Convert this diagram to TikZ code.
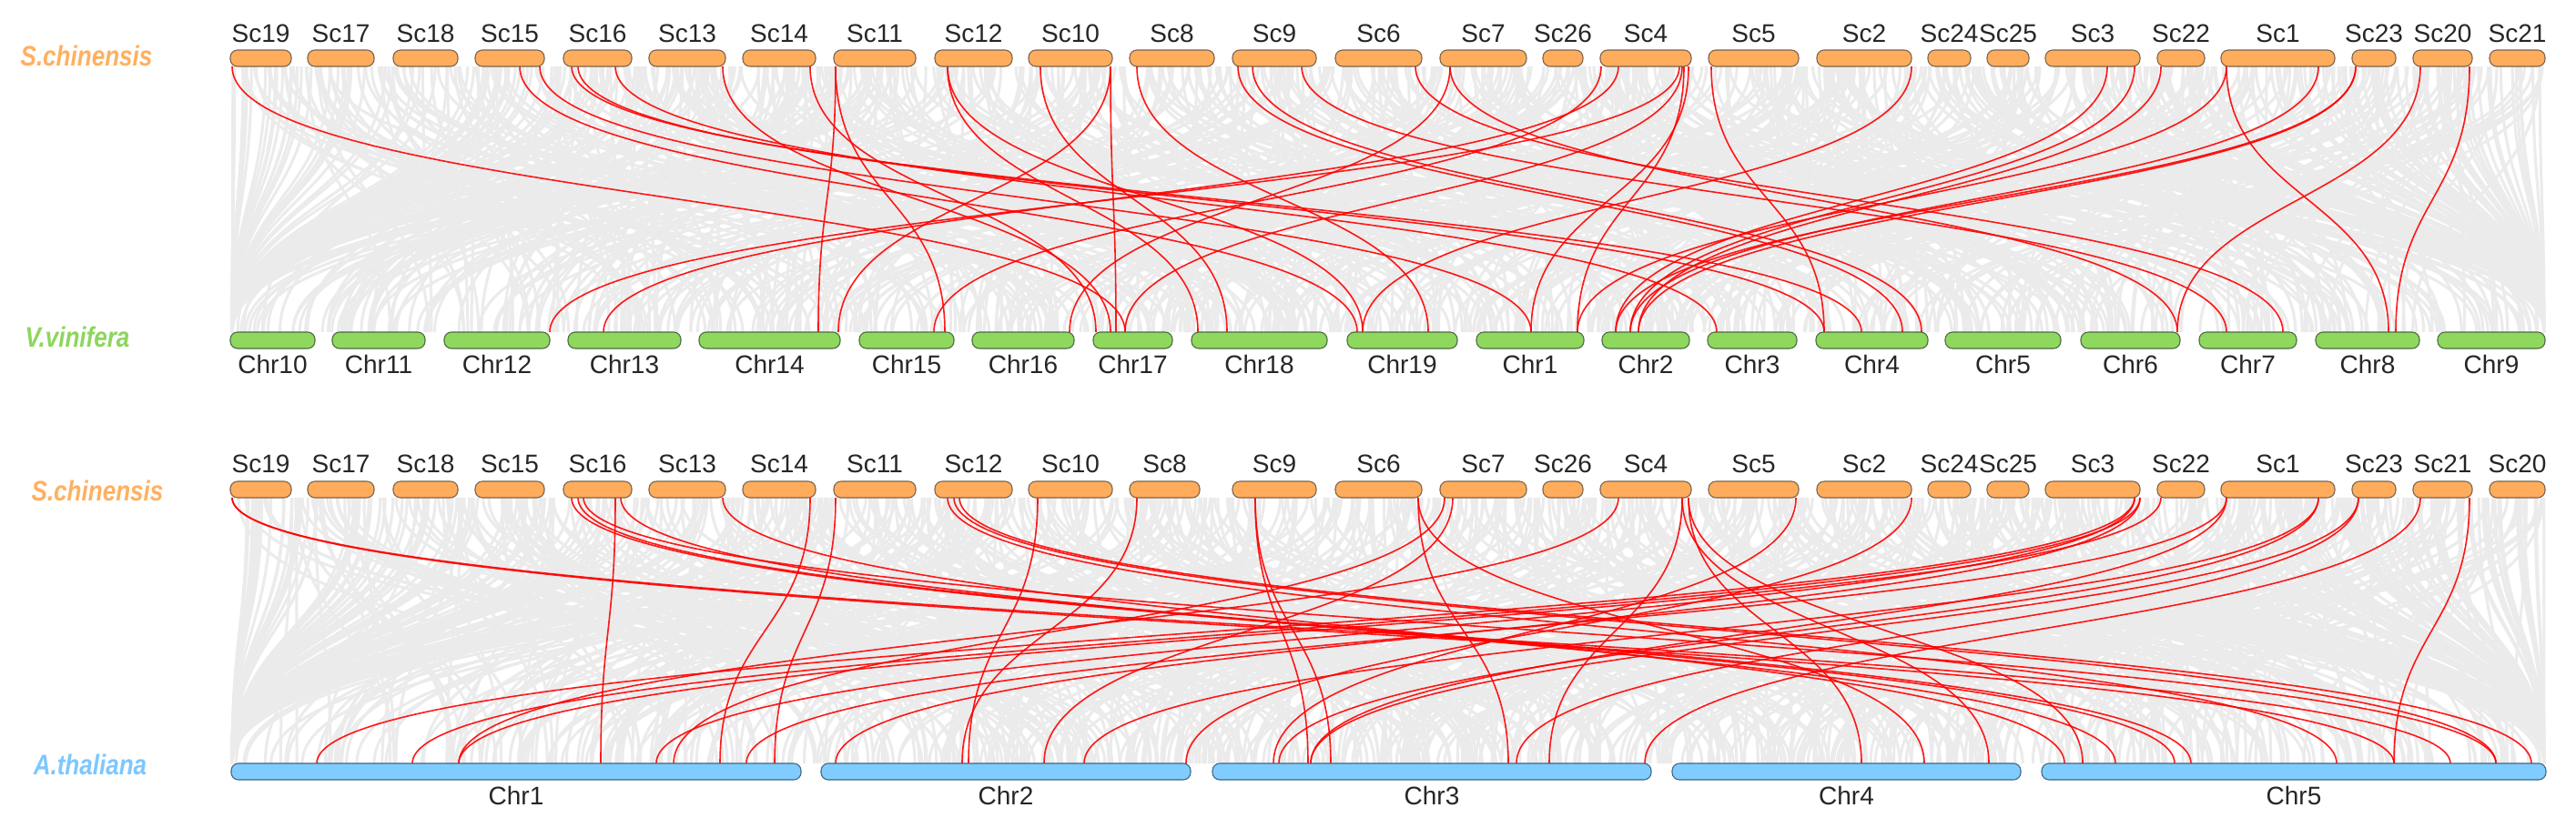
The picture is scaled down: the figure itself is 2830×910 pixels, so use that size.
\documentclass[tikz,border=0pt]{standalone}
\usepackage{fontspec}
\setmainfont{Liberation Sans}
\definecolor{scfill}{HTML}{FFAD5C}
\definecolor{scdraw}{HTML}{7A6450}
\definecolor{vvfill}{HTML}{8ED85E}
\definecolor{vvdraw}{HTML}{4E6A44}
\definecolor{atfill}{HTML}{80CCFF}
\definecolor{atdraw}{HTML}{3F6784}
\definecolor{sclab}{HTML}{FFB060}
\definecolor{vvlab}{HTML}{8CD65C}
\definecolor{atlab}{HTML}{7CC8FF}
\definecolor{glink}{HTML}{EBEBEB}
\begin{document}
\begin{tikzpicture}[x=1pt,y=-1pt,
  barbase/.style={rectangle,rounded corners=8pt,minimum height=18pt,inner sep=0pt,line width=1.1pt},
  scbar/.style={barbase,fill=scfill,draw=scdraw},
  vvbar/.style={barbase,fill=vvfill,draw=vvdraw},
  atbar/.style={barbase,fill=atfill,draw=atdraw},
  lab/.style={font=\fontsize{28}{32}\selectfont,inner sep=0pt,text=black!85},
  sp/.style={font=\fontsize{31}{34}\selectfont\bfseries\itshape,inner sep=0pt,xscale=0.84},
  graylink/.style={draw=glink,line width=3pt},
  redlink/.style={draw=red,line width=1.6pt,opacity=0.9}]
\useasboundingbox[fill=white] (0,0) rectangle (2830,910);

% ---------- gray background links ----------
\pgfmathsetseed{17}
\foreach \i in {1,...,900}{
  \pgfmathsetmacro\xa{255+2540*rnd}
  \pgfmathsetmacro\xb{max(255,min(2795,\xa+(rnd-0.5)*1700))}
  \draw[graylink] (\xa,73) .. controls (\xa,219) and (\xb,219) .. (\xb,365);
}
\foreach \i in {1,...,900}{
  \pgfmathsetmacro\xa{255+2540*rnd}
  \pgfmathsetmacro\xb{max(255,min(2795,\xa+(rnd-0.5)*1700))}
  \draw[graylink] (\xa,547) .. controls (\xa,693) and (\xb,693) .. (\xb,839);
}

% ---------- red links, S.chinensis - V.vinifera ----------
\foreach \a/\b in {255/1236,571/1491,593/1682,628/2045,635/2004,676/1886,794/1220,890/1204,
  918/899,918/1038,1041/1316,1041/1497,1143/1348,1220/1226,1220/921,1249/1569,1360/2090,
  1376/2111,1430/2446,1555/2508,1593/1175,1593/2392,1759/1026,1778/663,1848/1236,1855/1682,
  1850/1733,1845/604,1880/2004,2100/1497,2315/1775,2345/1791,2374/1800,2446/2624,2547/1791,
  2588/1775,2588/1800,2659/2392,2713/2632,2446/1733}
  \draw[redlink] (\a,73) .. controls (\a,219) and (\b,219) .. (\b,365);

% ---------- red links, S.chinensis - A.thaliana ----------
\foreach \a/\b in {255/2692,255/2630,628/2389,635/2407,641/2742,676/660,682/2324,794/2268,
  890/791,918/851,1041/2567,1048/2742,1054/2781,1140/1064,1249/1057,1379/1437,1379/1462,
  1558/2114,1558/1657,1587/740,1596/1147,1778/504,1848/1702,1855/2288,1855/2045,1848/2185,
  1973/1399,2100/1303,2345/348,2345/721,2351/453,2374/504,2446/820,2547/1191,2547/1405,
  2591/1440,2591/1666,2659/1807,2713/2630,2351/918,2446/1440}
  \draw[redlink] (\a,547) .. controls (\a,693) and (\b,693) .. (\b,839);

% ---------- species labels ----------
\node[sp,text=sclab] (spA) at (95,61) {S.chinensis};
\node[sp,text=vvlab] (spB) at (85,370) {V.vinifera};
\node[sp,text=sclab] (spC) at (107,539) {S.chinensis};
\node[sp,text=atlab] (spD) at (99,840) {A.thaliana};

% ---------- S.chinensis bars (panel 1) ----------
\foreach \n/\a/\b in {Sc19/253/320,Sc17/338/411,Sc18/432/503,Sc15/522/598,Sc16/619/694,
  Sc13/713/797,Sc14/816/896,Sc11/916/1006,Sc12/1027/1112,Sc10/1130/1222,Sc8/1241/1334,
  Sc9/1354/1446,Sc6/1467/1562,Sc7/1582/1677,Sc26/1695/1739,Sc4/1758/1858,Sc5/1877/1976,
  Sc2/1996/2100,Sc24/2118/2165,Sc25/2183/2229,Sc3/2247/2351,Sc22/2370/2422,Sc1/2440/2565,
  Sc23/2584/2632,Sc20/2651/2716,Sc21/2735/2796}{
  \node[scbar,minimum width={\b-\a}] (a\n) at ({(\a+\b)/2},64) {};
  \node[lab] (a\n l) at ({(\a+\b)/2},37) {\n};
}

% ---------- V.vinifera bars ----------
\foreach \n/\a/\b in {Chr10/253/346,Chr11/365/467,Chr12/488/604,Chr13/624/748,Chr14/768/923,
  Chr15/944/1048,Chr16/1068/1180,Chr17/1201/1288,Chr18/1309/1458,Chr19/1480/1601,
  Chr1/1622/1740,Chr2/1760/1856,Chr3/1876/1974,Chr4/1995/2118,Chr5/2137/2264,
  Chr6/2286/2395,Chr7/2416/2523,Chr8/2544/2658,Chr9/2678/2796}{
  \node[vvbar,minimum width={\b-\a}] (v\n) at ({(\a+\b)/2},374) {};
  \node[lab] (v\n l) at ({(\a+\b)/2},400) {\n};
}

% ---------- S.chinensis bars (panel 2) ----------
\foreach \n/\a/\b in {Sc19/253/320,Sc17/338/411,Sc18/432/503,Sc15/522/598,Sc16/619/694,
  Sc13/713/797,Sc14/816/896,Sc11/916/1006,Sc12/1027/1112,Sc10/1130/1222,Sc8/1241/1318,
  Sc9/1354/1446,Sc6/1467/1562,Sc7/1582/1677,Sc26/1695/1739,Sc4/1758/1858,Sc5/1877/1976,
  Sc2/1996/2100,Sc24/2118/2165,Sc25/2183/2229,Sc3/2247/2351,Sc22/2370/2422,Sc1/2440/2565,
  Sc23/2584/2632,Sc21/2651/2716,Sc20/2735/2796}{
  \node[scbar,minimum width={\b-\a}] (b\n) at ({(\a+\b)/2},538) {};
  \node[lab] (b\n l) at ({(\a+\b)/2},510) {\n};
}

% ---------- A.thaliana bars ----------
\foreach \n/\a/\b in {Chr1/254/880,Chr2/902/1308,Chr3/1332/1814,Chr4/1837/2220,Chr5/2243/2797}{
  \node[atbar,minimum width={\b-\a}] (t\n) at ({(\a+\b)/2},848) {};
  \node[lab] (t\n l) at ({(\a+\b)/2},874) {\n};
}
\end{tikzpicture}
\end{document}
